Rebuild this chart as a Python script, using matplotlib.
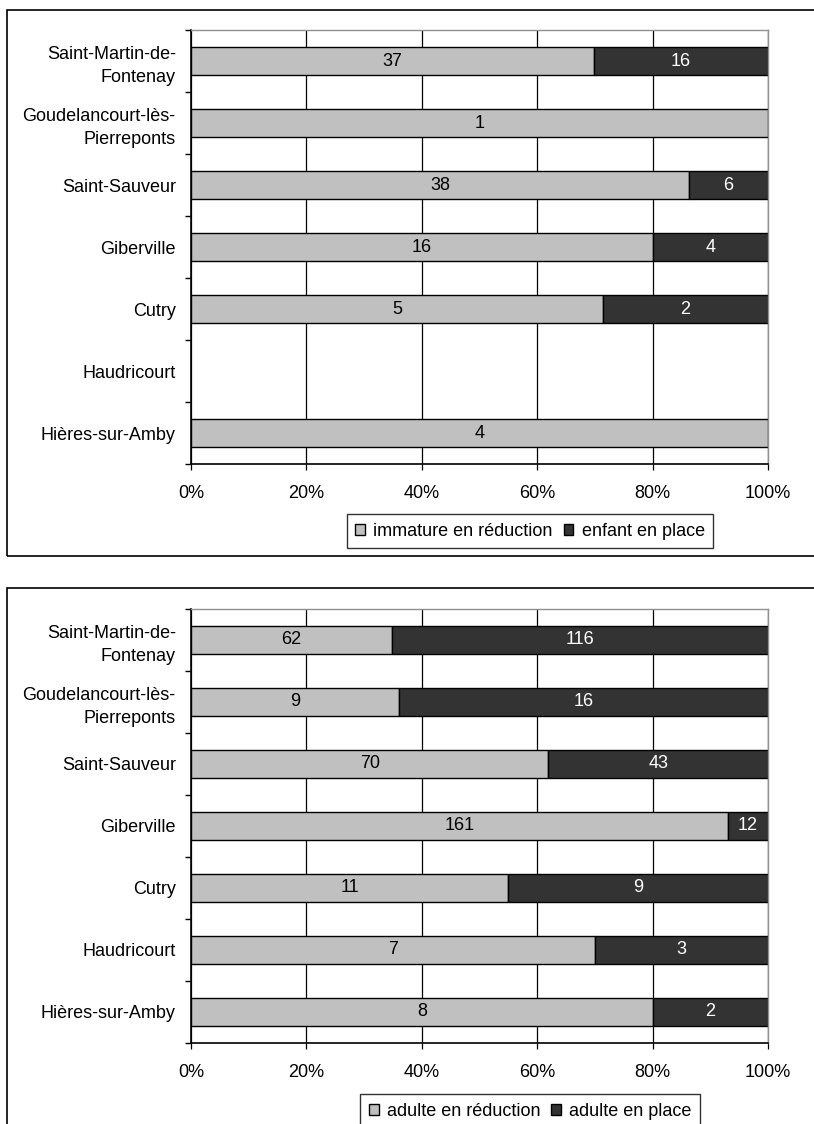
import matplotlib.pyplot as plt
import numpy as np
from matplotlib.patches import Rectangle

plt.rcParams["font.family"] = ["Liberation Sans", "DejaVu Sans"]

sites = ["Saint-Martin-de-\nFontenay", "Goudelancourt-lès-\nPierreponts", "Saint-Sauveur",
         "Giberville", "Cutry", "Haudricourt", "Hières-sur-Amby"]

immature_red = [37, 1, 38, 16, 5, 0, 4]
enfant_place = [16, 0, 6, 4, 2, 0, 0]

adulte_red = [62, 9, 70, 161, 11, 7, 8]
adulte_place = [116, 16, 43, 12, 9, 3, 2]

x_ticks = [0, 20, 40, 60, 80, 100]
x_labels = ["0%", "20%", "40%", "60%", "80%", "100%"]

LIGHT = "#c0c0c0"
DARK = "#333333"
FS = 13
W, H = 814, 1124


def fig_box(x0, y0, x1, y1):
    # boite en pixels (origine en haut a gauche) -> fraction de figure
    return [x0 / W, 1 - y1 / H, (x1 - x0) / W, (y1 - y0) / H]


def draw_panel(ax, a, b, names, legend_y):
    a = np.array(a, dtype=float)
    b = np.array(b, dtype=float)
    tot = a + b
    safe = np.where(tot > 0, tot, 1)
    pa = a / safe * 100
    pb = b / safe * 100
    y = np.arange(len(sites))[::-1]
    ma = a > 0
    mb = b > 0

    ax.set_axisbelow(True)
    ax.set_xticks(x_ticks)
    ax.xaxis.grid(True, color="black", linewidth=0.9)
    ba = ax.barh(y[ma], pa[ma], height=0.44, color=LIGHT, edgecolor="black", linewidth=1, label=names[0])
    bb = ax.barh(y[mb], pb[mb], left=pa[mb], height=0.44, color=DARK, edgecolor="black", linewidth=1,
                 label=names[1])
    for i in range(len(a)):
        if a[i] > 0:
            ax.text(pa[i] / 2, y[i], f"{int(a[i])}", ha="center", va="center", fontsize=FS, color="black")
        if b[i] > 0:
            ax.text(pa[i] + pb[i] / 2, y[i], f"{int(b[i])}", ha="center", va="center", fontsize=FS,
                    color="white")

    ax.set_xlim(0, 100)
    ax.set_ylim(-0.5, len(sites) - 0.5)
    ax.set_xticklabels(x_labels, fontsize=FS)
    ax.set_yticks(y)
    ax.set_yticklabels(sites, fontsize=FS, linespacing=1.45)
    ax.set_yticks(np.arange(-0.5, len(sites), 1), minor=True)
    ax.tick_params(axis="y", which="major", length=0, pad=11)
    ax.tick_params(axis="y", which="minor", length=4, width=1)
    ax.tick_params(axis="x", length=4, width=0.9, pad=11)
    for s in ["top", "right"]:
        ax.spines[s].set_color("#909090")
        ax.spines[s].set_linewidth(1)
    ax.spines["left"].set_linewidth(1.2)
    ax.spines["bottom"].set_linewidth(1.2)

    fig.legend(handles=[ba, bb], loc="center", bbox_to_anchor=(530 / W, 1 - legend_y / H), ncol=2,
               frameon=True, fancybox=False, edgecolor="black", fontsize=FS,
               handlelength=0.55, handleheight=0.55, handletextpad=0.45, columnspacing=0.6,
               borderpad=0.45, borderaxespad=0)


fig = plt.figure(figsize=(W / 100, H / 100), dpi=100)

fig.patches.append(Rectangle((7 / W, 1 - 556 / H), 2, (556 - 10) / H, transform=fig.transFigure,
                             fill=False, edgecolor="black", linewidth=1.2))
fig.patches.append(Rectangle((7 / W, -0.1), 2, 1 - 588 / H + 0.1, transform=fig.transFigure,
                             fill=False, edgecolor="black", linewidth=1.2))

ax1 = fig.add_axes(fig_box(191, 30, 768, 464))
draw_panel(ax1, immature_red, enfant_place, ["immature en réduction", "enfant en place"], 531)

ax2 = fig.add_axes(fig_box(191, 609, 768, 1043))
draw_panel(ax2, adulte_red, adulte_place, ["adulte en réduction", "adulte en place"], 1111)

fig.savefig("out.png", dpi=100)
